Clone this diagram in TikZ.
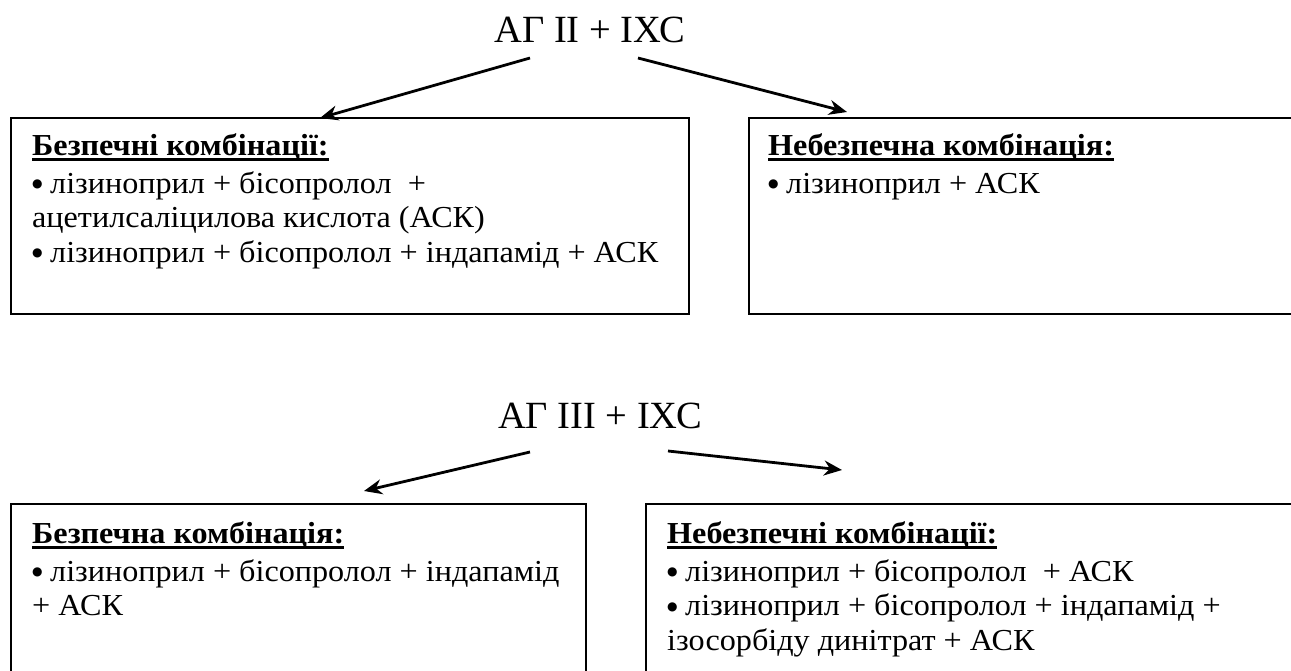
\documentclass[tikz,border=0pt]{standalone}
\usepackage{fontspec}
\setmainfont{Liberation Serif}
\newfontfamily\bodyfont{Liberation Serif}[FakeStretch=1.055]
\newfontfamily\dejavu{DejaVu Sans}
\usetikzlibrary{arrows.meta}
\newcommand{\hd}[1]{\rule{0pt}{25pt}\setbox0\hbox{\bfseries #1}\rlap{\rule[-5.5pt]{\wd0}{2.8pt}}\box0}
\newcommand{\bul}{\makebox[18pt][l]{\raisebox{5.4pt}{\dejavu\fontsize{12}{12}\selectfont ●}}}
\begin{document}
\begin{tikzpicture}[x=1pt,y=1pt,
  boxnode/.style={draw, line width=2pt, inner sep=0, anchor=north west},
  body/.style={anchor=north west, inner sep=0, align=left, font=\bodyfont\fontsize{30.5}{34.5}\selectfont},
  ttl/.style={inner sep=0, anchor=base, font=\fontsize{38.5}{40}\selectfont},
  arr/.style={-{Stealth[length=18pt,width=15pt]}, line width=2.8pt}]
\useasboundingbox (0,0) rectangle (1291,-671);
\clip (0,0) rectangle (1291,-671);
% top group
\node[ttl] (t1) at (590,-43) {АГ II + ІХС};
\node[boxnode, minimum width=678, minimum height=196] (b1) at (10,-117) {};
\node[boxnode, minimum width=580, minimum height=196] (b2) at (748,-117) {};
\node[body] (x1) at ([xshift=22,yshift=-13]b1.north west) {\hd{Безпечні комбінації:}\\[3.5pt]
\bul лізиноприл + бісопролол\ \ +\\
ацетилсаліцилова кислота (АСК)\\
\bul лізиноприл + бісопролол + індапамід + АСК};
\node[body] (x2) at ([xshift=20,yshift=-13]b2.north west) {\hd{Небезпечна комбінація:}\\[3.5pt]
\bul лізиноприл + АСК};
\coordinate (a1s) at (530,-58);
\coordinate (a1e) at (320,-118);
\coordinate (a2s) at (638,-58);
\coordinate (a2e) at (847,-112);
\draw[arr] (a1s) -- (a1e);
\draw[arr] (a2s) -- (a2e);
% bottom group
\node[ttl] (t2) at (600,-428) {АГ ІІІ + ІХС};
\node[boxnode, minimum width=575, minimum height=220] (b3) at (10,-503) {};
\node[boxnode, minimum width=700, minimum height=220] (b4) at (645,-503) {};
\node[body] (x3) at ([xshift=22,yshift=-15]b3.north west) {\hd{Безпечна комбінація:}\\[3.5pt]
\bul лізиноприл + бісопролол + індапамід\\
+ АСК};
\node[body] (x4) at ([xshift=22,yshift=-15]b4.north west) {\hd{Небезпечні комбінації:}\\[3.5pt]
\bul лізиноприл + бісопролол\ \ + АСК\\
\bul лізиноприл + бісопролол + індапамід +\\
ізосорбіду динітрат + АСК};
\coordinate (a3s) at (530,-452);
\coordinate (a3e) at (364,-491);
\coordinate (a4s) at (668,-451);
\coordinate (a4e) at (842,-470);
\draw[arr] (a3s) -- (a3e);
\draw[arr] (a4s) -- (a4e);
\end{tikzpicture}
\end{document}
